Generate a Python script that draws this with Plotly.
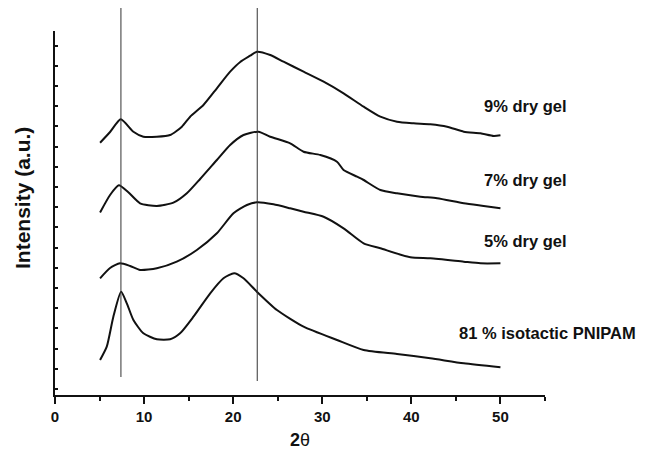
import plotly.graph_objects as go

# ---- data (2θ in degrees, intensity in arbitrary units, curves offset vertically) ----
x_9 = [5.06, 6.18, 7.38, 8.8, 9.92, 11.43, 12.92, 14.24, 15.17, 16.66, 18.17, 19.66, 20.79, 21.91,
       22.66, 24.16, 25.65, 27.9, 30.15, 32.39, 34.64, 36.52, 38.39, 40.26, 42.13, 44.01, 45.88,
       47.75, 49.25, 50.0]
y_9 = [252.3, 263.0, 275.7, 263.3, 258.3, 258.3, 260.0, 268.3, 278.3, 290.0, 306.7, 323.3, 333.0,
       339.3, 343.3, 340.0, 333.3, 323.3, 313.3, 301.7, 288.3, 278.3, 273.3, 271.7, 270.7, 268.3,
       263.3, 261.7, 259.0, 259.7]

x_7 = [5.06, 6.18, 7.16, 8.2, 9.55, 11.43, 13.29, 14.8, 16.29, 18.17, 19.66, 21.16, 22.84, 24.16,
       26.4, 27.9, 29.78, 31.65, 32.39, 33.9, 34.64, 36.52, 38.39, 41.01, 42.89, 45.88, 48.12, 50.0]
y_7 = [182.5, 200.0, 209.7, 203.0, 191.7, 189.0, 192.3, 201.7, 216.0, 235.0, 250.0, 260.0, 263.3,
       258.3, 251.7, 243.3, 240.0, 233.3, 225.0, 218.3, 215.0, 205.0, 201.7, 198.3, 196.7, 191.7,
       189.0, 186.7]

x_5 = [5.06, 6.18, 7.3, 8.43, 9.55, 11.43, 13.67, 15.92, 18.17, 20.03, 21.54, 22.66, 24.53, 26.4,
       27.9, 30.15, 32.39, 34.64, 36.52, 39.89, 42.13, 45.88, 47.75, 50.0]
y_5 = [116.7, 127.0, 131.7, 129.0, 125.0, 126.7, 133.3, 145.0, 161.7, 181.7, 190.0, 192.7, 190.7,
       186.7, 183.3, 178.3, 166.7, 151.7, 146.7, 137.7, 136.7, 133.3, 131.7, 131.7]

x_81 = [5.06, 5.81, 6.55, 7.42, 8.06, 8.8, 9.92, 11.43, 12.92, 14.04, 15.54, 17.42, 18.91, 20.11,
        21.16, 22.66, 24.91, 27.9, 31.65, 34.64, 38.39, 42.13, 45.88, 50.0]
y_81 = [35.0, 48.3, 78.3, 103.3, 91.7, 75.0, 61.7, 55.7, 55.7, 61.7, 78.3, 101.7, 116.7, 121.7,
        116.7, 103.3, 85.0, 68.3, 55.0, 45.0, 41.0, 36.7, 31.7, 27.7]

series_names = ["9% dry gel", "7% dry gel", "5% dry gel", "81 % isotactic PNIPAM"]
reference_lines = [7.4, 22.7]
x_ticks = [0, 10, 20, 30, 40, 50]
x_minor_ticks = [5, 15, 25, 35, 45, 55]
y_ticks = [6 + 20.2 * k for k in range(18)]

# ---- figure ----
fig = go.Figure()
for xs, ys, name in [(x_9, y_9, series_names[0]), (x_7, y_7, series_names[1]),
                     (x_5, y_5, series_names[2]), (x_81, y_81, series_names[3])]:
    fig.add_trace(go.Scatter(x=xs, y=ys, mode="lines", name=name,
                             line=dict(color="#111111", width=2, shape="spline", smoothing=0.6),
                             showlegend=False))

# page has an 8px body margin: figure placed at (8, 8)
OFF = 8
H0, H1 = 31, 395  # plot area top / bottom in page px
def py(p):
    return (H1 - p) / (H1 - H0)

line_bottoms = [377, 381]
for xv, yb in zip(reference_lines, line_bottoms):
    fig.add_shape(type="line", xref="x", yref="paper", x0=xv, x1=xv, y0=py(yb), y1=py(OFF),
                  line=dict(color="#333333", width=1))

label_font = dict(family="Liberation Sans, Arial, sans-serif", size=16.5, color="#111111", weight="bold")
label_pos = [(482, 106), (482, 180), (482, 241), (457, 333)]
for name, (lx, ly) in zip(series_names, label_pos):
    fig.add_annotation(text=name, xref="paper", yref="paper", x=(lx - 55) / 490, y=py(ly),
                       xanchor="left", yanchor="middle", showarrow=False, font=label_font)

fig.add_annotation(text="<b>2</b>θ", xref="paper", yref="paper", x=0.5, y=py(440),
                   xanchor="center", yanchor="middle", showarrow=False,
                   font=dict(family="Liberation Sans, Arial, sans-serif", size=18, color="#111111"))
fig.add_annotation(text="Intensity (a.u.)", xref="paper", yref="paper", x=(22 - 55) / 490, y=py(198),
                   xanchor="center", yanchor="middle", showarrow=False, textangle=-90,
                   font=dict(family="Liberation Sans, Arial, sans-serif", size=21, color="#111111",
                             weight="bold"))

fig.update_layout(
    width=646 - OFF, height=452 - OFF,
    margin=dict(l=55 - OFF, r=101, t=31 - OFF, b=57),
    plot_bgcolor="white", paper_bgcolor="white",
    xaxis=dict(range=[0, 55], tickvals=x_ticks, ticks="outside", ticklen=7, tickwidth=2,
               tickcolor="#111111", showline=True, linewidth=2, linecolor="#111111",
               showgrid=False, zeroline=False,
               tickfont=dict(family="Liberation Sans, Arial, sans-serif", size=15,
                             color="#111111", weight="bold"),
               minor=dict(tickvals=x_minor_ticks, ticks="outside", ticklen=4, tickwidth=2,
                          tickcolor="#111111", showgrid=False)),
    yaxis=dict(range=[0, 364], tickvals=y_ticks, ticks="inside", ticklen=3, tickwidth=2,
               tickcolor="#111111", showticklabels=False, showline=True, linewidth=2,
               linecolor="#111111", showgrid=False, zeroline=False),
)

fig.write_html("out.html")
